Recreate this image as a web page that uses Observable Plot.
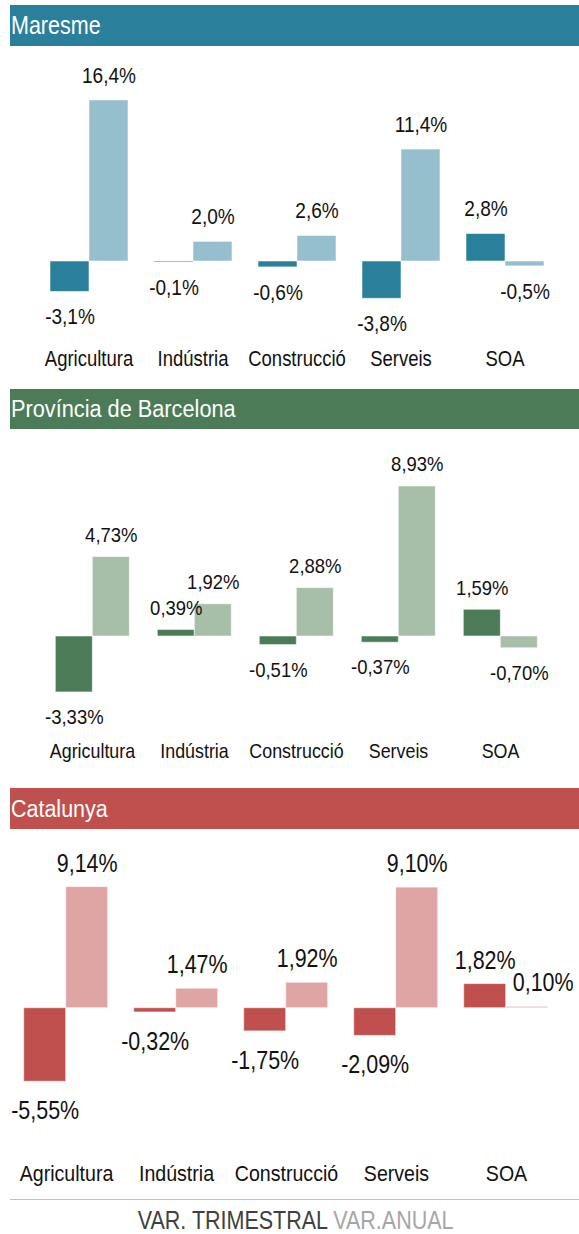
<!DOCTYPE html>
<html>
<head>
<meta charset="utf-8">
<script src="https://cdn.jsdelivr.net/npm/d3@7"></script>
<script src="https://cdn.jsdelivr.net/npm/@observablehq/plot@0.6"></script>
<style>
  html, body { margin: 0; padding: 0; background: #fff; }
  #root { position: relative; width: 579px; height: 1234px; }
  .hdr { position: absolute; left: 10px; width: 569px; color: #fff; box-sizing: border-box; padding-left: 1px;
         font-family: "Liberation Sans", Arial, sans-serif;
         display: flex; align-items: center; white-space: nowrap; }
  .hdr span { display: inline-block; transform-origin: 0 50%; }
  .panel { position: absolute; left: 0; }
  #legline { position: absolute; left: 10px; width: 569px; height: 1.5px; background: #c2c2c2; }
  #legend { position: absolute; left: 0; width: 579px; text-align: center; white-space: nowrap;
            font-family: "Liberation Sans", Arial, sans-serif; box-sizing: border-box; }
  #legend span.inner { display: inline-block; transform-origin: 50% 50%; }
</style>
</head>
<body>
<div id="root"></div>
<script>
const categories = ["Agricultura", "Indústria", "Construcció", "Serveis", "SOA"];
const seriesNames = ["VAR. TRIMESTRAL", "VAR.ANUAL"];
const panelTitles = ["Maresme", "Província de Barcelona", "Catalunya"];

const maresmeTrimestral = [-3.1, -0.1, -0.6, -3.8, 2.8];
const maresmeAnual = [16.4, 2.0, 2.6, 11.4, -0.5];
const barcelonaTrimestral = [-3.33, 0.39, -0.51, -0.37, 1.59];
const barcelonaAnual = [4.73, 1.92, 2.88, 8.93, -0.70];
const catalunyaTrimestral = [-5.55, -0.32, -1.75, -2.09, 1.82];
const catalunyaAnual = [9.14, 1.47, 1.92, 9.10, 0.10];

const FONT = '"Liberation Sans", Arial, sans-serif';
const root = document.getElementById("root");

function table(trim, anual) {
  const rows = [];
  categories.forEach((c, i) => {
    rows.push({cat: c, series: seriesNames[0], value: trim[i]});
    rows.push({cat: c, series: seriesNames[1], value: anual[i]});
  });
  return rows;
}

// condense glyphs horizontally (the reference uses a narrow face)
function narrowSvgText(svg, catF, valF) {
  svg.querySelectorAll("text").forEach(t => {
    const w = t.getComputedTextLength();
    const f = categories.includes(t.textContent) ? catF : valF;
    if (w > 0) {
      t.setAttribute("textLength", (w * f).toFixed(2));
      t.setAttribute("lengthAdjust", "spacingAndGlyphs");
    }
  });
}

function panel(cfg) {
  const hdr = document.createElement("div");
  hdr.className = "hdr";
  hdr.style.top = cfg.hTop + "px";
  hdr.style.height = cfg.hH + "px";
  hdr.style.background = cfg.colors[0];
  hdr.style.fontSize = cfg.titleSize + "px";
  const ht = document.createElement("span");
  ht.textContent = cfg.title;
  ht.style.transform = `scaleX(${cfg.titleF})`;
  hdr.appendChild(ht);
  root.appendChild(hdr);

  const data = table(cfg.trim, cfg.anual);
  const fmt = d => d.value.toFixed(cfg.dec).replace(".", ",") + "%";
  const yMin = -7, yMax = 19;
  const yRange = [cfg.zeroY - yMin * cfg.k, cfg.zeroY - yMax * cfg.k];
  const isNudged = d => cfg.nudge && d.cat === cfg.nudge.cat && d.series === cfg.nudge.series;

  const textOpts = {fx: "cat", x: "series", y: "value", text: fmt, fontSize: cfg.valueSize,
                    fill: "#111", lineAnchor: "middle"};
  const marks = [
    Plot.barY(data, {fx: "cat", x: "series", y: "value", fill: "series",
                     stroke: "#fff", strokeOpacity: 0.55, strokeWidth: 1}),
    Plot.text(data.filter(d => d.value >= 0 && !isNudged(d)), {...textOpts, dy: -cfg.above}),
    Plot.text(data.filter(d => d.value < 0 && !isNudged(d)), {...textOpts, dy: cfg.below}),
    Plot.text(categories, {fx: d => d, text: d => d, frameAnchor: "bottom", lineAnchor: "middle",
                           fontSize: cfg.catSize, fill: "#111"})
  ];
  if (cfg.nudge) {
    marks.push(Plot.text(data.filter(isNudged), {...textOpts, dy: -cfg.above, dx: cfg.nudge.dx}));
  }

  const svg = Plot.plot({
    width: 579,
    height: cfg.height,
    marginTop: 0,
    marginBottom: cfg.height - cfg.catY,
    marginLeft: cfg.xL,
    marginRight: 579 - cfg.xR,
    style: {fontFamily: FONT, background: "transparent", overflow: "visible"},
    fx: {domain: categories, paddingInner: cfg.pad, paddingOuter: 0, axis: null, label: null},
    x: {domain: seriesNames, padding: 0, axis: null},
    y: {domain: [yMin, yMax], range: yRange, axis: null},
    color: {domain: seriesNames, range: cfg.colors},
    marks
  });
  const wrap = document.createElement("div");
  wrap.className = "panel";
  wrap.style.top = cfg.sTop + "px";
  wrap.appendChild(svg);
  root.appendChild(wrap);
  narrowSvgText(svg, cfg.catF, cfg.valF);
}

panel({title: panelTitles[0], trim: maresmeTrimestral, anual: maresmeAnual, dec: 1,
       colors: ["#2A7F9A", "#96BFCE"], hTop: 5, hH: 41, titleSize: 25, titleF: 0.86,
       sTop: 46, height: 334, zeroY: 215, k: 9.82, catY: 312.6,
       xL: 47, xR: 546.5, pad: 0.24,
       valueSize: 22.3, valF: 0.854, catSize: 21.9, catF: 0.844, above: 25, below: 25});

panel({title: panelTitles[1], trim: barcelonaTrimestral, anual: barcelonaAnual, dec: 2,
       colors: ["#4B7B57", "#A7BFA9"], hTop: 389, hH: 40, titleSize: 24.7, titleF: 0.88,
       sTop: 429, height: 359, zeroY: 207, k: 16.8, catY: 322,
       xL: 51.7, xR: 539.5, pad: 0.253,
       valueSize: 21, valF: 0.88, catSize: 21, catF: 0.85, above: 22, below: 25});

panel({title: panelTitles[2], trim: catalunyaTrimestral, anual: catalunyaAnual, dec: 2,
       colors: ["#C0504D", "#DFA4A4"], hTop: 788, hH: 41, titleSize: 24.7, titleF: 0.87,
       sTop: 829, height: 360, zeroY: 178.7, k: 13.25, catY: 343.8,
       xL: 23.3, xR: 547.6, pad: 0.239,
       valueSize: 26.5, valF: 0.81, catSize: 22.5, catF: 0.87, above: 24, below: 29,
       nudge: {cat: "SOA", series: "VAR.ANUAL", dx: 16}});

const line = document.createElement("div");
line.id = "legline";
line.style.top = "1198.5px";
root.appendChild(line);

const legend = document.createElement("div");
legend.id = "legend";
legend.style.top = "1205.8px";
legend.style.fontSize = "25px";
legend.style.lineHeight = "28px";
legend.style.paddingLeft = "13px";
const inner = document.createElement("span");
inner.className = "inner";
inner.style.transform = "scaleX(0.86)";
const s1 = document.createElement("span");
s1.textContent = seriesNames[0];
s1.style.color = "#404040";
const s2 = document.createElement("span");
s2.textContent = seriesNames[1];
s2.style.color = "#a6a6a6";
inner.appendChild(s1);
inner.appendChild(document.createTextNode(" "));
inner.appendChild(s2);
legend.appendChild(inner);
root.appendChild(legend);
</script>
</body>
</html>
